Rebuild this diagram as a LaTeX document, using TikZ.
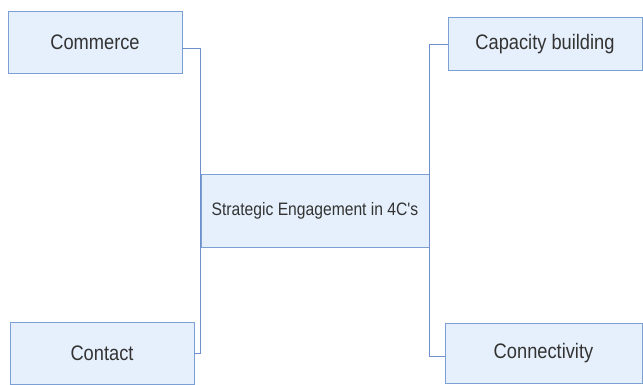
\documentclass[tikz,border=0pt]{standalone}
\usepackage{fontspec}
\newfontfamily\boxfont[FakeStretch=0.87]{Liberation Sans}
\definecolor{boxfill}{HTML}{E6F0FC}
\definecolor{boxline}{HTML}{7C9FD4}
\definecolor{linkline}{HTML}{6F90CC}
\definecolor{labeltext}{HTML}{333333}
\tikzset{
  cbox/.style={draw=boxline, fill=boxfill, line width=0.9pt, text=labeltext,
    font=\boxfont\fontsize{21}{23}\selectfont, inner sep=0pt},
  link/.style={draw=linkline, line width=0.9pt}
}
\begin{document}
\begin{tikzpicture}[x=1pt,y=-1pt]
    \useasboundingbox (0,0) rectangle (643,385);
    % Draw the centre box
    \node[cbox, minimum width=228pt, minimum height=73pt,
      font=\boxfont\fontsize{18}{20}\selectfont] (hub) at (315,210.5) {Strategic Engagement in 4C's};
    % Draw the four outer boxes
    \node[cbox, minimum width=174pt, minimum height=62pt] (commerce) at (95,42) {Commerce};
    \node[cbox, minimum width=194pt, minimum height=53pt] (capacity) at (545,44) {Capacity building};
    \node[cbox, minimum width=184pt, minimum height=62pt] (contact) at (102,353) {Contact};
    \node[cbox, minimum width=197pt, minimum height=60pt] (connectivity) at (543.5,353) {Connectivity};
    % Connect them to the centre
    \draw[link] ([yshift=-6pt]commerce.east) -| (hub.west);
    \draw[link] (contact.east) -| (hub.west);
    \draw[link] (capacity.west) -| (hub.east);
    \draw[link] ([yshift=-3pt]connectivity.west) -| (hub.east);
\end{tikzpicture}
\end{document}
